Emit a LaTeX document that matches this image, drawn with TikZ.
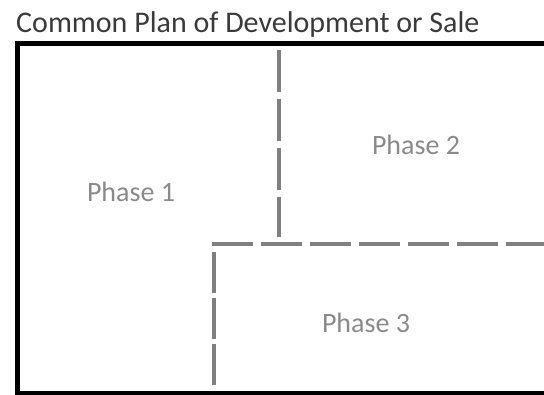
\documentclass[tikz,border=0pt]{standalone}
\usepackage{fontspec}
\setmainfont{Carlito}
\definecolor{titlegray}{HTML}{3A3A3A}
\definecolor{phasegray}{HTML}{8A8A8A}
\definecolor{linegray}{HTML}{808080}
\begin{document}
\begin{tikzpicture}[x=1pt, y=-1pt,
		phase/.style={text=phasegray, font=\fontsize{28}{32}\selectfont, inner sep=0pt},
		border/.style={draw=black, line width=5pt},
		split/.style={draw=linegray, line width=4pt, dash pattern=on 42pt off 7pt}]
			\useasboundingbox (0,0) rectangle (544,395);
			\node[anchor=base west, inner sep=0pt, text=titlegray, font=\fontsize{30}{34}\selectfont] (P_title) at (16,33) {Common Plan of Development or Sale};
			\draw[border] (17,44) rectangle (560,393.5);
			\coordinate (P_0_0) at (279,50);
			\coordinate (P_0_1) at (279,237);
			\draw[split] (P_0_0) -- (P_0_1);
			\coordinate (P_1_0) at (212,244);
			\coordinate (P_1_1) at (552,244);
			\draw[split, dash pattern=on 41pt off 8pt] (P_1_0) -- (P_1_1);
			\coordinate (P_2_0) at (214,252);
			\coordinate (P_2_1) at (214,387);
			\draw[split, dash pattern=on 41pt off 5pt] (P_2_0) -- (P_2_1);
			\node[phase] (P_a) at (131,192) {Phase 1};
			\node[phase] (P_b) at (416,145) {Phase 2};
			\node[phase] (P_c) at (366,323) {Phase 3};
		\end{tikzpicture}
\end{document}
